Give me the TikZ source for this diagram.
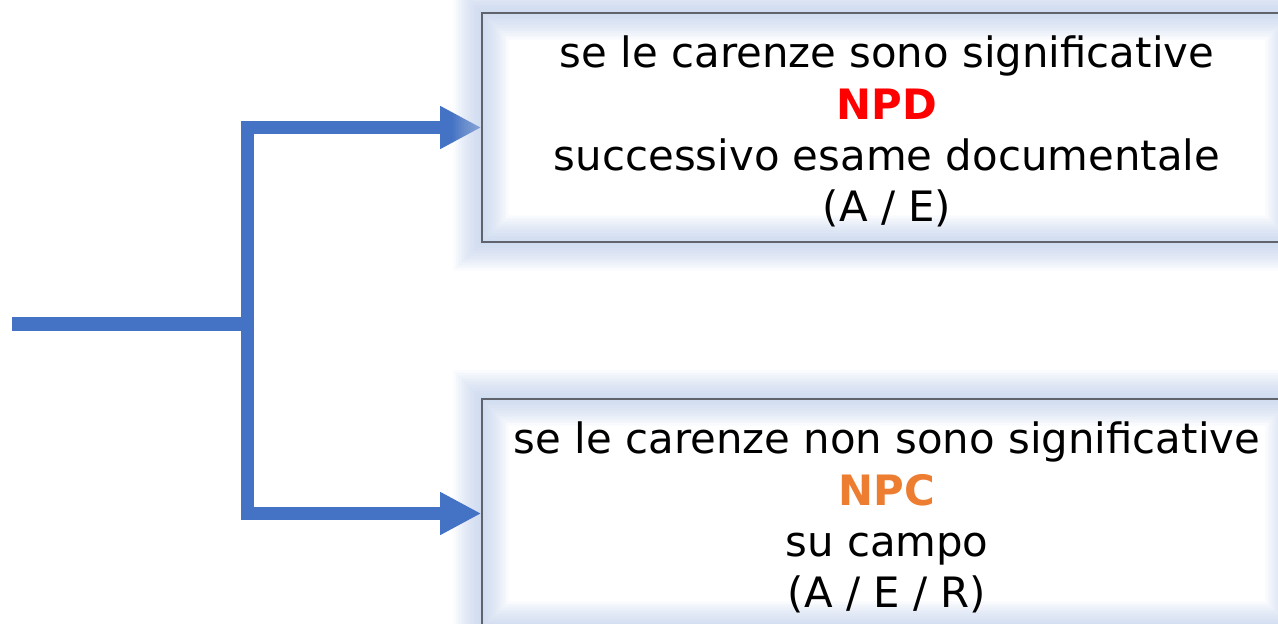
\documentclass[tikz,border=0pt]{standalone}
\usepackage{fontspec}
\setmainfont{DejaVu Sans}
\usetikzlibrary{arrows.meta,backgrounds}
\definecolor{flowblue}{RGB}{68,114,196}
\definecolor{glowblue}{RGB}{180,199,231}
\definecolor{framegray}{RGB}{96,99,108}
\definecolor{npdred}{RGB}{255,0,0}
\definecolor{npcorange}{RGB}{237,125,49}
\newcommand\topstrut{\rule{0pt}{40bp}}
\tikzset{
	casebox/.style={rectangle,draw=framegray,line width=1.5bp,minimum width=810bp,minimum height=229bp,
		inner sep=0pt,align=center,font=\fontsize{42}{51.5}\selectfont},
	flowline/.style={draw=flowblue,line width=13bp},
	flowarrow/.style={flowline,-{Triangle[length=41bp,width=40bp]}},
	glowring/.style={glowblue,opacity=0.05,line width=#1}
}
\begin{document}
\begin{tikzpicture}[x=1bp,y=-1bp]
	\useasboundingbox (0,0) rectangle (1278,624);
	\clip (0,0) rectangle (1278,624);
	% the two outcomes
	\node[casebox] (npdbox) at (887,127.5)
		{\topstrut se le carenze sono significative\\{\bfseries\color{npdred}NPD}\\successivo esame documentale\\(A / E)};
	\node[casebox] (npcbox) at (887,513.5)
		{\topstrut se le carenze non sono significative\\{\bfseries\color{npcorange}NPC}\\su campo\\(A / E / R)};
	\coordinate (start) at (12,324);
	\coordinate (fork) at (247,324);
	\begin{pgfonlayer}{background}
		\foreach \w in {2,5,...,56}
			\draw[glowring=\w bp] (npcbox.north west) rectangle (npcbox.south east);
		\draw[flowline] (start) -- (fork);
		\draw[flowarrow] (fork) |- (npdbox.west);
		\draw[flowarrow] (fork) |- (npcbox.west);
		\foreach \w in {2,5,...,56}
			\draw[glowring=\w bp] (npdbox.north west) rectangle (npdbox.south east);
	\end{pgfonlayer}
\end{tikzpicture}
\end{document}
